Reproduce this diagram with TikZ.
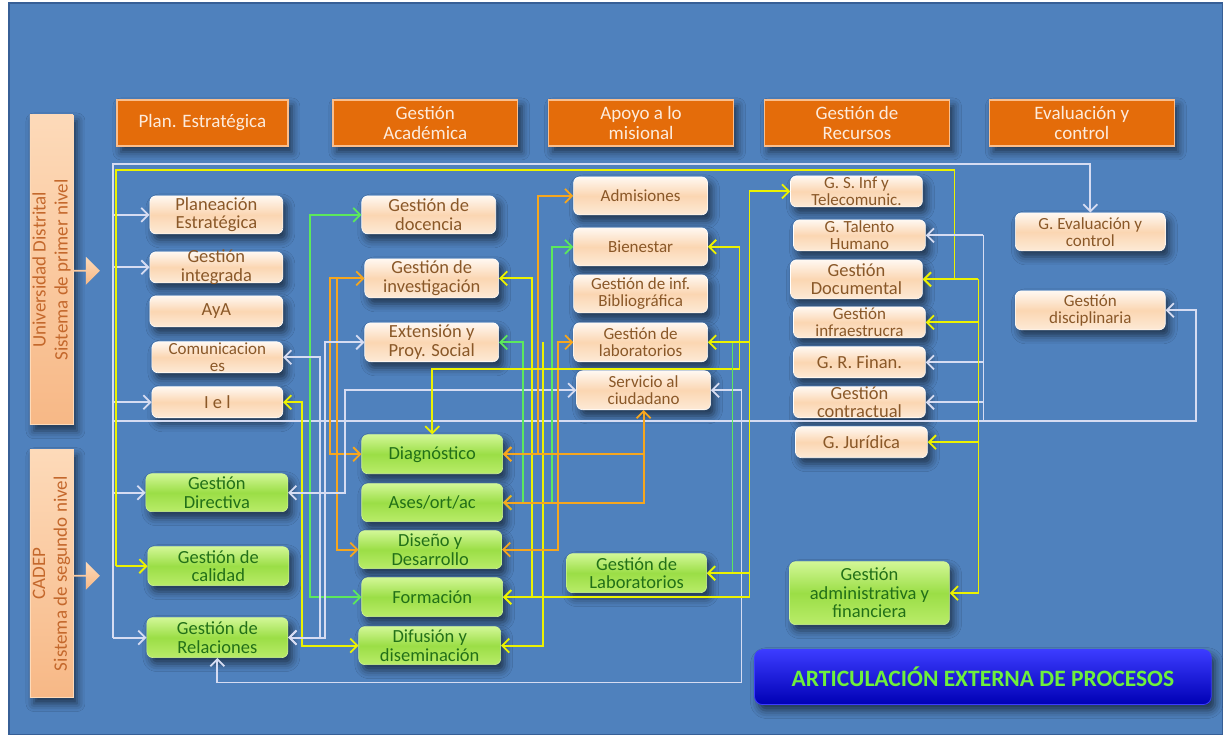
\documentclass[tikz,border=0pt]{standalone}
\usepackage{fontspec}
\setmainfont{Carlito}
\usetikzlibrary{arrows.meta,shadows,shadows.blur,shapes.arrows}
\definecolor{bgblue}{RGB}{79,129,189}
\definecolor{bgedge}{RGB}{55,95,150}
\definecolor{pkA}{RGB}{255,248,241}
\definecolor{pkB}{RGB}{251,214,178}
\definecolor{pkC}{RGB}{253,234,214}
\definecolor{pkT}{RGB}{138,88,40}
\definecolor{gnA}{RGB}{210,247,150}
\definecolor{gnB}{RGB}{155,222,70}
\definecolor{gnC}{RGB}{185,236,105}
\definecolor{gnT}{RGB}{34,112,24}
\definecolor{hdF}{RGB}{228,108,10}
\definecolor{hdE}{RGB}{250,190,140}
\definecolor{hdT}{RGB}{253,235,220}
\definecolor{lbA}{RGB}{253,218,185}
\definecolor{lbB}{RGB}{247,184,134}
\definecolor{lbT}{RGB}{196,104,44}
\definecolor{lnW}{RGB}{214,220,242}
\definecolor{lnY}{RGB}{236,242,0}
\definecolor{lnG}{RGB}{92,232,92}
\definecolor{lnO}{RGB}{246,166,30}
\definecolor{arA}{RGB}{60,60,255}
\definecolor{arB}{RGB}{0,0,180}
\definecolor{arT}{RGB}{110,240,60}
\newcommand\pfs{\fontsize{17}{16.5}\selectfont}
\newcommand\pfm{\fontsize{17}{17}\selectfont}
\newcommand\pfb{\fontsize{18.5}{18.5}\selectfont}
\newcommand\gfs{\fontsize{18.5}{18.5}\selectfont}
\newcommand\hfs{\fontsize{19}{20}\selectfont}
\newcommand\lfs{\fontsize{19}{22}\selectfont}
% box + text: style, text options, name, x, y, w, h, text
\newcommand\bx[8]{\node[#1,minimum width=#6pt,minimum height=#7pt] (#3) at (#4,#5) {};\node[#1t,#2] (#3t) at (#3.center) {#8};}
\begin{document}
\begin{tikzpicture}[x=1pt,y=-1pt,
  >={Straight Barb[length=7pt,width=14pt]},
  shd/.style={blur shadow={shadow xshift=4pt,shadow yshift=-6pt,shadow blur radius=8pt,shadow opacity=60}},
  pk/.style={rounded corners=6pt,inner sep=0pt,top color=pkA,bottom color=pkC,middle color=pkB,draw=white,line width=0.6pt,shd},
  pkt/.style={inner sep=0pt,align=center,text=pkT,font=\pfs},
  gn/.style={rounded corners=6pt,inner sep=0pt,top color=gnA,bottom color=gnC,middle color=gnB,draw=gnA,line width=0.6pt,shd},
  gnt/.style={inner sep=0pt,align=center,text=gnT,font=\gfs},
  hd/.style={inner sep=0pt,fill=hdF,draw=hdE,line width=1.5pt,shd},
  hdt/.style={inner sep=0pt,align=center,text=hdT,font=\hfs},
  lb/.style={inner sep=0pt,top color=lbA,bottom color=lbB,draw=lbA,line width=0.6pt,shd},
  lbt/.style={inner sep=0pt,align=center,text=lbT,font=\lfs,rotate=90},
  ar/.style={rounded corners=8pt,inner sep=0pt,top color=arA,bottom color=arB,draw=arA,line width=0.8pt,shd},
  art/.style={inner sep=0pt,text=arT,font=\bfseries\fontsize{23.5}{25}\selectfont},
  blk/.style={single arrow,single arrow head extend=3pt,inner sep=0pt,minimum height=27pt,minimum width=28pt,top color=lbA,bottom color=lbB,draw=none},
  wl/.style={draw=lnW,line width=1.8pt},
  yl/.style={draw=lnY,line width=1.8pt},
  gl/.style={draw=lnG,line width=1.8pt},
  ol/.style={draw=lnO,line width=1.8pt}]
\fill[white] (0,0) rectangle (1223,740);
\fill[bgblue] (9,3) rectangle (1223,735);
\draw[bgedge,line width=1.5pt] (9,3) rectangle (1223,735);
\useasboundingbox (0,0) rectangle (1223,740);

% side labels
\bx{lb}{}{lu}{51.5}{270}{43}{310}{Universidad Distrital\\Sistema de primer nivel}
\bx{lb}{}{lc}{51.5}{574}{43}{248}{CADEP\\Sistema de segundo nivel}
\node[blk] (au) at (86,271) {};
\node[blk] (ac) at (86,576) {};

% headers
\bx{hd}{}{h1}{202.5}{123}{171}{46}{Plan. Estratégica}
\bx{hd}{}{h2}{425.5}{123}{185}{46}{Gestión\\Académica}
\bx{hd}{}{h3}{641.5}{123}{185}{46}{Apoyo a lo\\misional}
\bx{hd}{}{h4}{857.5}{123}{185}{46}{Gestión de\\Recursos}
\bx{hd}{}{h5}{1082.5}{123}{185}{46}{Evaluación y\\control}

% column 1
\bx{pk}{font=\pfb}{pla}{216.5}{215}{133}{38}{Planeación\\Estratégica}
\bx{pk}{font=\pfb}{gin}{216.5}{267.5}{133}{31}{Gestión\\integrada}
\bx{pk}{font=\pfb}{aya}{216.5}{311.5}{133}{31}{AyA}
\bx{pk}{}{com}{217.5}{357.5}{131}{31}{Comunicacion\\es}
\bx{pk}{font=\pfb}{iel}{217.5}{402.5}{131}{31}{I e l}
\bx{gn}{}{dir}{217}{493}{142}{38}{Gestión\\Directiva}
\bx{gn}{}{cal}{218.5}{566.5}{141}{39}{Gestión de\\calidad}
\bx{gn}{}{rel}{217.5}{638}{141}{40}{Gestión de\\Relaciones}

% column 2
\bx{pk}{font=\pfb}{doc}{429}{215}{134}{38}{Gestión de\\docencia}
\bx{pk}{font=\pfb}{inv}{432}{278.5}{134}{39}{Gestión de\\investigación}
\bx{pk}{font=\pfb}{ext}{432}{342.5}{134}{39}{Extensión y\\Proy. Social}
\bx{gn}{}{dia}{432.5}{454.5}{141}{39}{Diagnóstico}
\bx{gn}{}{ase}{432.5}{503}{141}{38}{Ases/ort/ac}
\bx{gn}{}{dis}{430.5}{550}{143}{38}{Diseño y\\Desarrollo}
\bx{gn}{}{for}{432.5}{597.5}{141}{39}{Formación}
\bx{gn}{}{dif}{430}{646}{142}{38}{Difusión y\\diseminación}

% column 3
\bx{pk}{font=\pfm}{adm}{641}{196}{134}{38}{Admisiones}
\bx{pk}{font=\pfm}{bie}{641}{247}{134}{38}{Bienestar}
\bx{pk}{font=\pfm}{bib}{641}{294}{134}{38}{Gestión de inf.\\Bibliográfica}
\bx{pk}{font=\pfm}{lab}{641}{342.5}{134}{39}{Gestión de\\laboratorios}
\bx{pk}{font=\pfm}{ser}{644}{390.5}{134}{39}{Servicio al\\ciudadano}
\bx{gn}{}{lbg}{637}{573.5}{140}{39}{Gestión de\\Laboratorios}

% column 4
\bx{pk}{}{gsi}{857}{191.5}{132}{31}{G. S. Inf y\\Telecomunic.}
\bx{pk}{}{gth}{860}{235.5}{132}{31}{G. Talento\\Humano}
\bx{pk}{font=\pfb}{gdo}{857}{279.5}{132}{39}{Gestión\\Documental}
\bx{pk}{}{gif}{860}{322.5}{132}{31}{Gestión\\infraestrucra}
\bx{pk}{font=\pfb}{grf}{860}{362.5}{132}{31}{G. R. Finan.}
\bx{pk}{font=\pfb}{gco}{860}{402.5}{132}{31}{Gestión\\contractual}
\bx{pk}{font=\pfb}{gju}{862}{442.5}{132}{31}{G. Jurídica}
\bx{gn}{}{gaf}{870}{593.5}{160}{63}{Gestión\\administrativa y\\financiera}

% column 5
\bx{pk}{font=\pfm}{gev}{1091}{232}{150}{38}{G. Evaluación y\\control}
\bx{pk}{font=\pfm}{gdi}{1091}{310.5}{150}{39}{Gestión\\disciplinaria}

% bottom banner
\bx{ar}{}{art}{983.5}{677.5}{457}{55}{ARTICULACIÓN EXTERNA DE PROCESOS}

% lanes and corners
\coordinate (L113) at (113,0);
\coordinate (L116) at (116,0);
\coordinate (L302) at (302,0);
\coordinate (L310) at (310,0);
\coordinate (L320) at (320,0);
\coordinate (L325) at (325,0);
\coordinate (L330) at (330,0);
\coordinate (L337) at (337,0);
\coordinate (L345) at (345,0);
\coordinate (L523) at (523,0);
\coordinate (L532) at (532,0);
\coordinate (L538) at (538,0);
\coordinate (L543) at (543,0);
\coordinate (L552) at (552,0);
\coordinate (L558) at (558,0);
\coordinate (L733) at (733,0);
\coordinate (L740) at (740,0);
\coordinate (L742) at (742,0);
\coordinate (L750) at (750,0);
\coordinate (L979) at (979,0);
\coordinate (L984) at (984,0);
\coordinate (wTL) at (113,164);
\coordinate (yTL) at (116,170);
\coordinate (yTR) at (955,170);
\coordinate (wH) at (0,421);
\coordinate (wHR) at (1197,421);
\coordinate (B683) at (0,683);
\coordinate (Y369) at (0,369);

% white outer frame
\draw[wl,->] (L113 |- rel.west) -- (wTL) -| (gev.north);
\foreach \n in {pla,gin,iel,dir,rel} \draw[wl,->] (L113 |- \n.west) -- (\n.west);
\draw[wl,->] (L113 |- wH) -- (wHR) |- (gdi.east);
% yellow outer frame
\draw[yl,->] (L116 |- cal.west) -- (yTL) -- (yTR) |- (gdo.east);
\draw[yl,->] (L116 |- cal.west) -- (cal.west);
% right lanes
\draw[wl] (L984 |- gth.east) -- (L984 |- wH);
\foreach \n in {gth,grf,gco} \draw[wl,->] (L984 |- \n.east) -- (\n.east);
\draw[yl,->] (L979 |- gdo.east) |- (gaf.east);
\foreach \n in {gdo,gif,gju} \draw[yl,->] (L979 |- \n.east) -- (\n.east);

% left middle lanes
\draw[gl,<->] (doc.west) -- (L310 |- doc.west) -- (L310 |- for.west) -- (for.west);
\draw[ol,<->] (inv.west) -- (L330 |- inv.west) -- (L330 |- dia.west) -- (dia.west);
\draw[ol,->] (L337 |- inv.west) -- (L337 |- dis.west) -- (dis.west);
\draw[yl,<->] (iel.east) -- (L302 |- iel.east) -- (L302 |- dif.west) -- (dif.west);
\draw[wl,<->] (com.east) -- (L320 |- com.east) -- (L320 |- rel.east) -- (rel.east);
\draw[wl,<->] (ext.west) -- (L325 |- ext.west) -- (L325 |- rel.east) -- (rel.east);
\draw[wl,<->] (dir.east) -- (L345 |- dir.east) -- (L345 |- ser.west) -- (ser.west);
\draw[wl,<->] (rel.south) -- (rel.south |- B683) -- (L742 |- B683) -- (L742 |- ser.east) -- (ser.east);

% right middle lanes
\draw[gl,<->] (ext.east) -- (L523 |- ext.east) -- (L523 |- ase.east) -- (ase.east);
\draw[yl,<->] (inv.east) -- (L532 |- inv.east) -- (L532 |- for.east) -- (for.east);
\draw[ol,<->] (adm.west) -- (L538 |- adm.west) -- (L538 |- dia.east) -- (dia.east);
\draw[yl,->] (L543 |- ext.east) -- (L543 |- dif.east) -- (dif.east);
\draw[gl,<->] (bie.west) -- (L552 |- bie.west) -- (L552 |- ase.east) -- (ase.east);
\draw[ol,<->] (lab.west) -- (L558 |- lab.west) -- (L558 |- dis.east) -- (dis.east);
\draw[ol,<->] (ser.south) -- (ser.south |- ase.east) -- (ase.east);
\draw[ol,->] (ser.south |- dia.east) -- (dia.east);
\draw[yl,<->] (bie.east) -- (L740 |- bie.east) -- (L740 |- Y369) -- (dia.north |- Y369) -- (dia.north);
\draw[gl,->] (L733 |- lab.east) -- (L733 |- lbg.east) -- (lbg.east);
\draw[yl,<->] (gsi.west) -- (L750 |- gsi.west) -- (L750 |- for.east) -- (for.east);
\draw[yl,->] (L750 |- lab.east) -- (lab.east);
\draw[yl,->] (L750 |- lbg.east) -- (lbg.east);
\end{tikzpicture}
\end{document}
